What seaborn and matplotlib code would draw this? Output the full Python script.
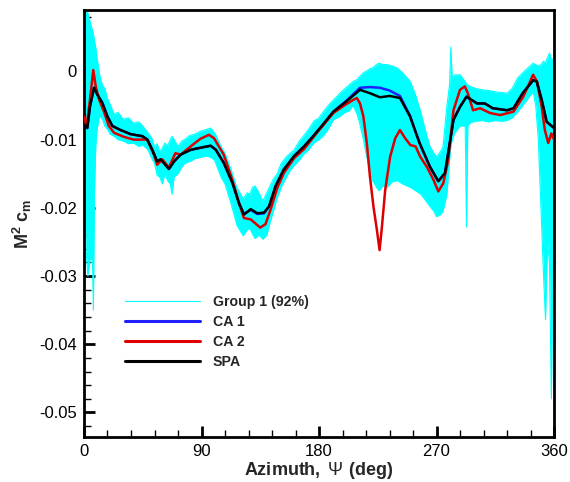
import matplotlib
matplotlib.use("Agg")
import matplotlib.pyplot as plt
import seaborn as sns
import pandas as pd
from matplotlib.ticker import FixedLocator, MultipleLocator

# ---------------- data ----------------
SPA_AZ = [0, 2.5, 4.6, 7.7, 10.2, 14, 17.9, 21.7, 28, 35.7, 44.7, 48.5, 52.3, 56, 58.7, 61, 65, 69, 74,
          81.7, 89, 97, 101, 107, 113.6, 118.7, 122.5, 127.7, 132.8, 137.9, 141.7, 146.8, 153, 161, 168.5,
          176, 183, 191, 201, 211.4, 219, 226.7, 234, 242, 249.7, 257, 265, 271.4, 276.5, 283, 288, 293,
          301, 307, 313, 324, 329, 336, 344, 346.8, 350.6, 354.4, 360]
SPA_CM = [-0.0078, -0.0083, -0.0051, -0.0024, -0.0034, -0.0046, -0.0066, -0.0080, -0.0086, -0.0092,
          -0.0095, -0.0100, -0.0115, -0.0132, -0.0129, -0.0134, -0.0143, -0.0132, -0.0122, -0.0115,
          -0.0112, -0.0109, -0.0115, -0.0134, -0.0163, -0.0193, -0.0210, -0.0202, -0.0208, -0.0207,
          -0.0198, -0.0168, -0.0144, -0.0124, -0.0110, -0.0094, -0.0078, -0.0059, -0.0044, -0.0027,
          -0.0032, -0.0038, -0.0036, -0.0039, -0.0066, -0.0105, -0.0140, -0.0161, -0.0149, -0.0071,
          -0.0052, -0.0037, -0.0047, -0.0047, -0.0054, -0.0057, -0.0054, -0.0032, -0.0013, -0.0015,
          -0.0042, -0.0074, -0.0083]

CA1_AZ = [0, 2.5, 4.6, 7.7, 10.2, 14, 17.9, 21.7, 28, 35.7, 44.7, 48.5, 52.3, 56, 58.7, 61, 65, 69, 74,
          81.7, 89, 97, 101, 107, 113.6, 118.7, 122.5, 127.7, 132.8, 137.9, 141.7, 146.8, 153, 161, 168.5,
          176, 183, 191, 201, 211.4, 219, 226.7, 234, 242, 249.7, 257, 265, 271.4, 276.5, 283, 288, 293,
          301, 307, 313, 324, 329, 336, 344, 346.8, 350.6, 354.4, 360]
CA1_CM = [-0.0078, -0.0083, -0.0051, -0.0024, -0.0034, -0.0046, -0.0066, -0.0080, -0.0086, -0.0092,
          -0.0095, -0.0100, -0.0115, -0.0132, -0.0129, -0.0134, -0.0143, -0.0132, -0.0122, -0.0115,
          -0.0112, -0.0109, -0.0115, -0.0134, -0.0163, -0.0193, -0.0209, -0.0203, -0.0209, -0.0208,
          -0.0198, -0.0168, -0.0144, -0.0124, -0.0110, -0.0094, -0.0078, -0.0059, -0.0043, -0.0024,
          -0.0023, -0.0024, -0.0028, -0.0036, -0.0065, -0.0105, -0.0140, -0.0161, -0.0149, -0.0071,
          -0.0052, -0.0037, -0.0047, -0.0047, -0.0054, -0.0057, -0.0054, -0.0032, -0.0013, -0.0015,
          -0.0042, -0.0074, -0.0083]

CA2_AZ = [0, 2, 4.6, 7.1, 9, 11.5, 15.3, 19, 23, 30.6, 38, 44.7, 48.5, 53.6, 56, 60, 65, 70, 74, 81.7,
          89, 95.7, 99.6, 107, 113.6, 118.7, 122.5, 127.7, 135, 139, 143, 148, 153, 161, 168.5, 178, 191,
          198.5, 206, 209, 211.4, 214, 216.6, 219, 221.7, 224.3, 226.4, 228, 230.7, 234.5, 238.4, 242,
          246, 250, 254, 257.5, 262.6, 267.7, 271.4, 275.2, 279, 283, 288, 291.7, 294, 298, 303.4, 311,
          318.7, 329, 336.5, 344, 347, 350.6, 353, 355.6, 358, 360]
CA2_CM = [-0.0066, -0.0080, -0.0041, 0.0002, -0.0022, -0.0041, -0.0059, -0.0080, -0.0090, -0.0096,
          -0.0100, -0.0100, -0.0100, -0.0122, -0.0137, -0.0129, -0.0141, -0.0120, -0.0122, -0.0110,
          -0.0099, -0.0093, -0.0098, -0.0122, -0.0159, -0.0193, -0.0215, -0.0217, -0.0229, -0.0224,
          -0.0202, -0.0171, -0.0149, -0.0127, -0.0114, -0.0091, -0.0061, -0.0051, -0.0042, -0.0039,
          -0.0047, -0.0066, -0.0105, -0.0154, -0.0198, -0.0232, -0.0262, -0.0232, -0.0174, -0.0125,
          -0.0098, -0.0086, -0.0098, -0.0108, -0.0110, -0.0125, -0.0140, -0.0159, -0.0176, -0.0164,
          -0.0130, -0.0057, -0.0027, -0.0022, -0.0032, -0.0057, -0.0054, -0.0061, -0.0064, -0.0059,
          -0.0037, -0.0005, -0.0015, -0.0052, -0.0086, -0.0105, -0.0091, -0.0100]

# Group 1 ensemble envelope (upper / lower bounds)
GRP_AZ = [0, 1.5, 3, 5, 6.5, 7.2, 8, 9, 10, 12, 14, 16, 18, 20, 23, 26, 30, 34, 38, 42, 45, 49, 52, 54,
          56, 58, 60, 62, 64, 66, 67.5, 69, 72, 75, 77, 81, 85, 89, 94, 97, 100, 105, 108, 112, 115, 117,
          120, 122, 125, 127, 129, 131, 134, 137, 140, 142, 145, 148, 151, 155, 158, 161, 165, 168, 172,
          176, 180, 183, 187, 191, 196, 200, 203, 206, 209, 211, 214, 216, 219, 221, 224, 226, 229, 232,
          236, 240, 244, 250, 254, 258, 262, 265, 268, 270, 273, 275, 278, 280, 281, 282, 284, 288, 292,
          293, 294, 296, 300, 305, 310, 315, 320, 324, 328, 332, 336, 340, 344, 346, 348, 350, 352,
          353.5, 355, 356.5, 358, 359, 360]
GRP_UP = [0.009, 0.009, 0.0085, 0.0070, 0.0060, 0.0055, 0.0045, 0.0035, 0.0020, -0.0005, -0.0020,
          -0.0025, -0.0040, -0.0048, -0.0063, -0.0060, -0.0070, -0.0068, -0.0076, -0.0074, -0.0080,
          -0.0090, -0.0098, -0.0110, -0.0106, -0.0118, -0.0112, -0.0105, -0.0110, -0.0100, -0.0095,
          -0.0100, -0.0110, -0.0102, -0.0100, -0.0094, -0.0092, -0.0088, -0.0085, -0.0083, -0.0090,
          -0.0110, -0.0120, -0.0140, -0.0158, -0.0170, -0.0180, -0.0187, -0.0178, -0.0180, -0.0170,
          -0.0168, -0.0178, -0.0190, -0.0178, -0.0170, -0.0158, -0.0150, -0.0135, -0.0125, -0.0120,
          -0.0115, -0.0102, -0.0095, -0.0085, -0.0073, -0.0068, -0.0060, -0.0050, -0.0042, -0.0032,
          -0.0025, -0.0020, -0.0015, -0.0012, -0.0008, -0.0002, 0.0000, 0.0004, 0.0005, 0.0010,
          0.0012, 0.0010, 0.0010, 0.0008, 0.0005, -0.0002, -0.0015, -0.0035, -0.0060, -0.0090,
          -0.0110, -0.0120, -0.0125, -0.0118, -0.0110, -0.0050, -0.0020, 0.0036, -0.0010, -0.0005,
          -0.0005, -0.0015, -0.0018, -0.0020, -0.0022, -0.0025, -0.0027, -0.0028, -0.0030, -0.0031,
          -0.0032, -0.0025, -0.0010, -0.0002, 0.0005, 0.0012, 0.0010, 0.0008, 0.0010, 0.0015, 0.0012,
          0.0020, 0.0027, 0.0018, 0.0018, 0.0015]
GRP_LO = [-0.012, -0.026, -0.030, -0.027, -0.028, -0.035, -0.018, -0.011, -0.0085, -0.0065, -0.0070,
          -0.0080, -0.0085, -0.0092, -0.0095, -0.0100, -0.0102, -0.0106, -0.0105, -0.0110, -0.0108,
          -0.0115, -0.0128, -0.0135, -0.0152, -0.0155, -0.0165, -0.0150, -0.0160, -0.0165, -0.0180,
          -0.0155, -0.0150, -0.0140, -0.0135, -0.0132, -0.0128, -0.0126, -0.0124, -0.0126, -0.0130,
          -0.0155, -0.0165, -0.0190, -0.0210, -0.0225, -0.0235, -0.0241, -0.0232, -0.0230, -0.0238,
          -0.0245, -0.0240, -0.0246, -0.0240, -0.0225, -0.0205, -0.0185, -0.0170, -0.0155, -0.0145,
          -0.0138, -0.0130, -0.0122, -0.0115, -0.0105, -0.0100, -0.0095, -0.0085, -0.0071, -0.0066,
          -0.0060, -0.0058, -0.0050, -0.0062, -0.0075, -0.0100, -0.0120, -0.0145, -0.0160, -0.0170,
          -0.0175, -0.0168, -0.0170, -0.0162, -0.0160, -0.0165, -0.0170, -0.0175, -0.0180, -0.0190,
          -0.0198, -0.0205, -0.0213, -0.0210, -0.0205, -0.0180, -0.0130, -0.0110, -0.0100, -0.0090,
          -0.0080, -0.0080, -0.0228, -0.0080, -0.0075, -0.0073, -0.0072, -0.0074, -0.0072, -0.0073,
          -0.0072, -0.0068, -0.0060, -0.0050, -0.0040, -0.0030, -0.0050, -0.0100, -0.0200, -0.0300,
          -0.0364, -0.0250, -0.0280, -0.0480, -0.0300, -0.0120]

X_TICKS = [0, 90, 180, 270, 360]
X_LABELS = ["0", "90", "180", "270", "360"]
Y_TICKS = [0, -0.01, -0.02, -0.03, -0.04, -0.05]
Y_LABELS = ["0", "-0.01", "-0.02", "-0.03", "-0.04", "-0.05"]

# ---------------- style ----------------
sns.set_style("white")
plt.rcParams["font.family"] = ["Liberation Sans", "DejaVu Sans"]
plt.rcParams["mathtext.fontset"] = "custom"
plt.rcParams["mathtext.rm"] = "Liberation Sans"
plt.rcParams["mathtext.it"] = "Liberation Sans"
plt.rcParams["mathtext.bf"] = "Liberation Sans:bold"

fig = plt.figure(figsize=(5.7, 4.82), dpi=100)
ax = fig.add_axes([84 / 570, 1 - 437 / 482, 470 / 570, 427 / 482])

grp = pd.DataFrame({"az": GRP_AZ, "up": GRP_UP, "lo": GRP_LO})
ax.fill_between(grp["az"], grp["lo"], grp["up"], color="#00ffff", linewidth=0, zorder=1)
sns.lineplot(data=grp, x="az", y="up", ax=ax, color="#00ffff", linewidth=0.8,
             estimator=None, label="Group 1 (92%)", zorder=2)
sns.lineplot(data=grp, x="az", y="lo", ax=ax, color="#00ffff", linewidth=0.8,
             estimator=None, zorder=2)

ca1 = pd.DataFrame({"az": CA1_AZ, "cm": CA1_CM})
ca2 = pd.DataFrame({"az": CA2_AZ, "cm": CA2_CM})
spa = pd.DataFrame({"az": SPA_AZ, "cm": SPA_CM})
sns.lineplot(data=ca1, x="az", y="cm", ax=ax, color="#2020ff", linewidth=1.8,
             estimator=None, label="CA 1", zorder=3)
sns.lineplot(data=ca2, x="az", y="cm", ax=ax, color="#dd0000", linewidth=1.8,
             estimator=None, label="CA 2", zorder=4)
sns.lineplot(data=spa, x="az", y="cm", ax=ax, color="black", linewidth=1.8,
             estimator=None, label="SPA", zorder=5)

ax.set_xlim(0, 360)
ax.set_ylim(-0.0536, 0.009)

ax.xaxis.set_major_locator(FixedLocator(X_TICKS))
ax.set_xticklabels(X_LABELS)
ax.xaxis.set_minor_locator(MultipleLocator(18))
ax.yaxis.set_major_locator(FixedLocator(Y_TICKS))
ax.set_yticklabels(Y_LABELS)
ax.yaxis.set_minor_locator(MultipleLocator(0.002))

ax.tick_params(which="both", direction="in", top=False, right=False, left=True, bottom=True,
               labelsize=12, colors="black")
ax.tick_params(which="major", length=8, width=2, pad=5)
ax.tick_params(which="minor", length=5, width=1)

for sp in ax.spines.values():
    sp.set_linewidth(2)
    sp.set_color("black")
    sp.set_visible(True)

ax.set_xlabel(r"$\mathbf{Azimuth,}\ \Psi\ \mathbf{(deg)}$", fontsize=13, labelpad=1)
ax.set_ylabel(r"$\mathbf{M^{2}\ c_{m}}$", fontsize=13, labelpad=4)

leg = ax.legend(loc="upper left", bbox_to_anchor=((125 - 84) / 470, 1 - (295 - 10) / 427),
                frameon=False, fontsize=10.2, handlelength=5.3, handletextpad=0.9,
                labelspacing=0.42, borderpad=0, borderaxespad=0)
for t in leg.get_texts():
    t.set_fontweight("bold")
for ln in leg.get_lines():
    if ln.get_label() != "Group 1 (92%)":
        ln.set_linewidth(2.2)

fig.savefig("out.png", dpi=100)
